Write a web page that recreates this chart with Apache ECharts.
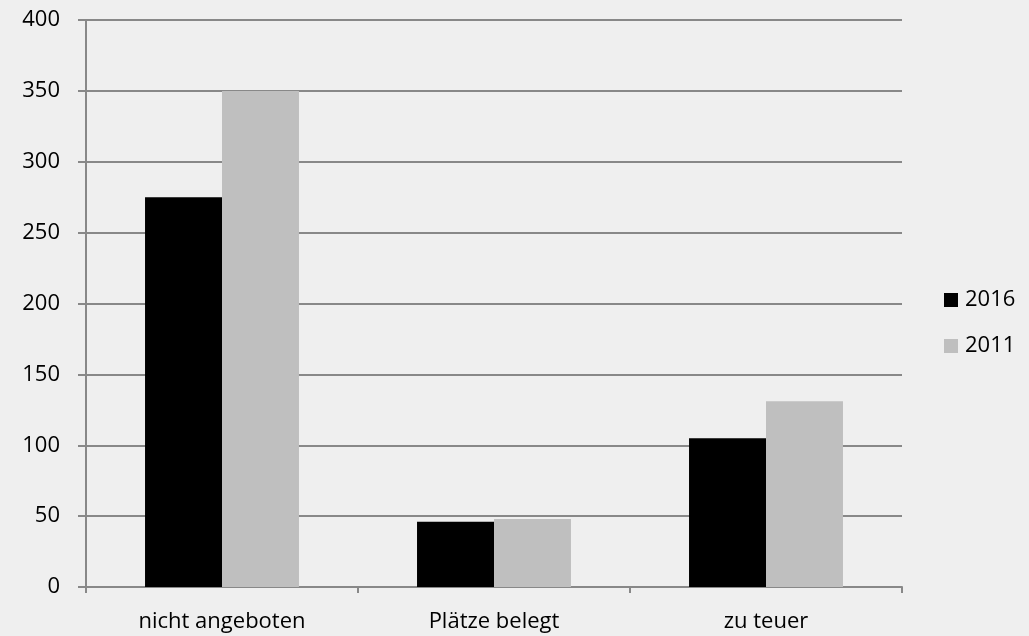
<!DOCTYPE html>
<html>
<head>
<meta charset="utf-8">
<script src="https://cdn.jsdelivr.net/npm/echarts@6/dist/echarts.min.js"></script>
<style>
html,body{margin:0;padding:0;background:#efefef;}
#chart{width:1029px;height:636px;}
</style>
</head>
<body>
<div id="chart"></div>
<script>
const categories = ["nicht angeboten", "Plätze belegt", "zu teuer"];
const values2016 = [275, 46, 105];
const values2011 = [350, 48, 131];
const yTicks = [0, 50, 100, 150, 200, 250, 300, 350, 400];

const chart = echarts.init(document.getElementById('chart'));
const font = '"Open Sans", "Liberation Sans", sans-serif';
chart.setOption({
  backgroundColor: '#efefef',
  animation: false,
  textStyle: {fontFamily: font},
  grid: {left: 86, right: 127, top: 20, bottom: 49},
  legend: {
    orient: 'vertical',
    left: 939, top: 284,
    itemWidth: 14, itemHeight: 14, itemGap: 24,
    icon: 'rect',
    textStyle: {fontSize: 22, color: '#000', fontFamily: font, padding: [0,0,0,2]},
    data: ['2016', '2011']
  },
  xAxis: {
    type: 'category',
    data: categories,
    axisLine: {lineStyle: {color: '#888', width: 2}},
    axisTick: {show: true, length: 6, lineStyle: {color: '#888', width: 2}},
    axisLabel: {fontSize: 22, color: '#000', margin: 24, fontFamily: font}
  },
  yAxis: {
    type: 'value',
    min: yTicks[0], max: yTicks[yTicks.length-1], interval: 50,
    axisLine: {show: true, lineStyle: {color: '#888', width: 2}},
    axisTick: {show: true, length: 8, lineStyle: {color: '#888', width: 2}},
    splitLine: {lineStyle: {color: '#888', width: 2}},
    axisLabel: {fontSize: 22, color: '#000', margin: 26, fontFamily: font}
  },
  series: [
    {name: '2016', type: 'bar', data: values2016, barWidth: '28.3%', barGap: '0%', itemStyle: {color: '#000'}},
    {name: '2011', type: 'bar', data: values2011, barWidth: '28.3%', itemStyle: {color: '#bfbfbf'}}
  ]
});
</script>
</body>
</html>
